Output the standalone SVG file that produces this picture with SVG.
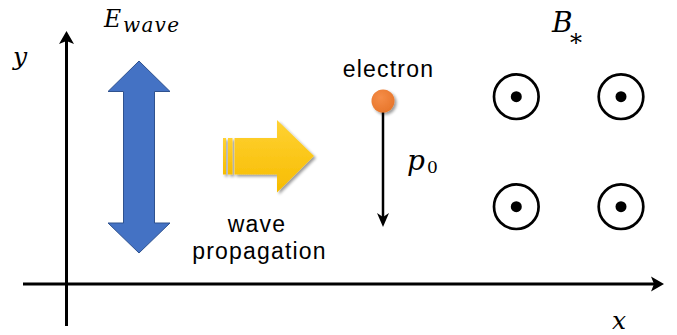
<svg xmlns="http://www.w3.org/2000/svg" width="677" height="335" viewBox="0 0 677 335">
  <defs>
    <style>
      .axis { stroke: #000; stroke-width: 3; fill: none; }
      .math { font-family: "DejaVu Serif", "Liberation Serif", serif; font-style: italic; fill: #000; }
      .up { font-family: "DejaVu Serif", "Liberation Serif", serif; font-style: normal; fill: #000; }
      .label { font-family: "Liberation Sans", "Open Sans", sans-serif; font-size: 23px; letter-spacing: 1.2px; fill: #000; text-anchor: middle; }
      .field { fill: none; stroke: #000; stroke-width: 2.7; }
      .dot { fill: #000; }
    </style>
    <linearGradient id="yel" x1="0" y1="0" x2="0" y2="1">
      <stop offset="0" stop-color="#FFD234"/>
      <stop offset="1" stop-color="#F7BC00"/>
    </linearGradient>
    <radialGradient id="org" cx="0.4" cy="0.35" r="0.7">
      <stop offset="0" stop-color="#F58D48"/>
      <stop offset="1" stop-color="#E7752A"/>
    </radialGradient>
    <filter id="shadow" x="-20%" y="-20%" width="140%" height="140%">
      <feGaussianBlur in="SourceAlpha" stdDeviation="1.5"/>
      <feOffset dx="2" dy="2" result="b"/>
      <feComponentTransfer><feFuncA type="linear" slope="0.4"/></feComponentTransfer>
      <feMerge><feMergeNode/><feMergeNode in="SourceGraphic"/></feMerge>
    </filter>
  </defs>

  <g id="connectors">
    <!-- y axis -->
    <line class="axis" x1="66.5" y1="326" x2="66.5" y2="40"/>
    <path d="M66.5 31 L74 44 L66.5 41 L59 44 Z" fill="#000"/>
    <!-- x axis -->
    <line class="axis" x1="23" y1="284" x2="655" y2="284"/>
    <path d="M664 284 L651 291.5 L654 284 L651 276.5 Z" fill="#000"/>
    <!-- momentum p0 -->
    <line x1="383" y1="110" x2="383" y2="218" stroke="#000" stroke-width="2.5"/>
    <path d="M383 227 L377 213 L383 217 L389 213 Z" fill="#000"/>
  </g>

  <g id="axis-labels">
    <text class="math" x="13" y="65" font-size="25">y</text>
    <text class="math" x="612" y="329" font-size="25">x</text>
  </g>

  <g id="e-wave">
    <path d="M139 61 L170 91.5 L154.5 91.5 L154.5 223 L170 223 L139 253 L108 223 L123.5 223 L123.5 91.5 L108 91.5 Z" fill="#4472C4" stroke="#2F528F" stroke-width="1"/>
    <text class="math" x="104" y="27" font-size="23.5">E<tspan x="123" y="32" font-size="20" textLength="56">wave</tspan></text>
  </g>

  <g id="wave-propagation">
    <g filter="url(#shadow)">
      <rect x="223" y="138" width="3" height="36.5" fill="url(#yel)"/>
      <rect x="228" y="138" width="4.5" height="36.5" fill="url(#yel)"/>
      <path d="M234.5 138 L277 138 L277 120 L314 156 L277 192.5 L277 174.5 L234.5 174.5 Z" fill="url(#yel)"/>
    </g>
    <text class="label" x="257" y="232">wave</text>
    <text class="label" x="259.5" y="259">propagation</text>
  </g>

  <g id="electron">
    <circle cx="383" cy="101" r="11.5" fill="url(#org)" filter="url(#shadow)"/>
    <text class="label" x="388.5" y="77">electron</text>
    <text class="math" x="407" y="170" font-size="28">p<tspan class="up" x="427" y="173" font-size="17">0</tspan></text>
  </g>

  <g id="b-field">
    <text class="math" x="552" y="32" font-size="28">B<tspan class="up" x="570" y="51" font-size="24">*</tspan></text>
  </g>
  <g id="b1"><circle class="field" cx="516.3" cy="96.7" r="22.3"/><circle class="dot" cx="516.3" cy="96.7" r="5.5"/></g>
  <g id="b2"><circle class="field" cx="621" cy="96.7" r="22.3"/><circle class="dot" cx="621" cy="96.7" r="5.5"/></g>
  <g id="b3"><circle class="field" cx="516.3" cy="206.7" r="22.3"/><circle class="dot" cx="516.3" cy="206.7" r="5.5"/></g>
  <g id="b4"><circle class="field" cx="621" cy="206.7" r="22.3"/><circle class="dot" cx="621" cy="206.7" r="5.5"/></g>
</svg>
